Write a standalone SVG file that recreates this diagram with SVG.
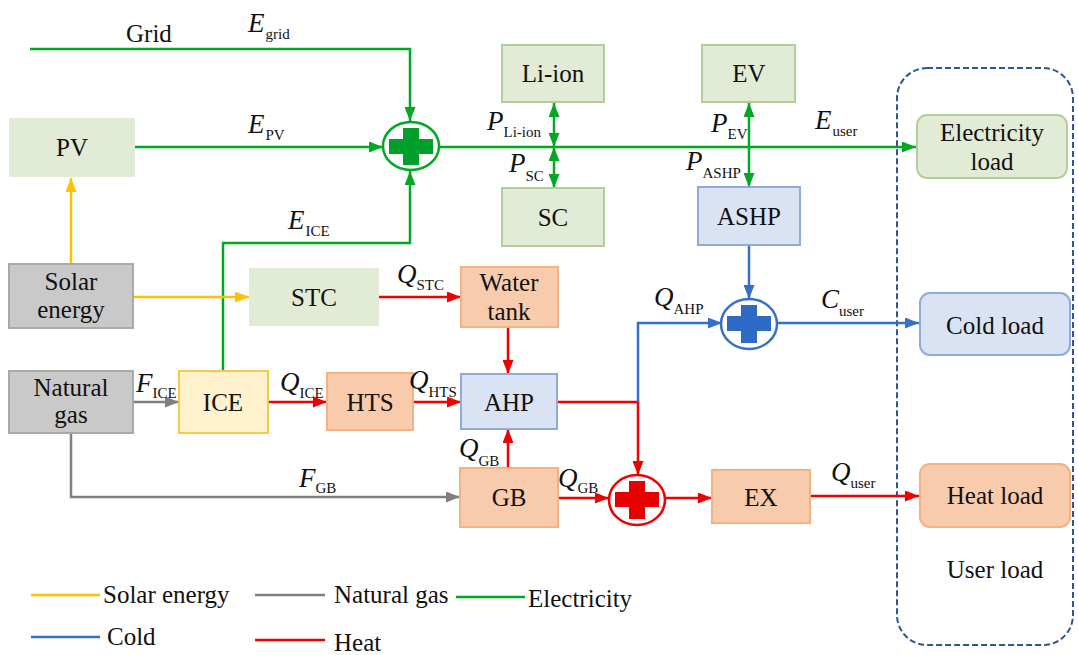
<svg xmlns="http://www.w3.org/2000/svg" width="1078" height="655" viewBox="0 0 1078 655" font-family="Liberation Serif, Times New Roman, serif">
<style>
text{font-family:"Liberation Serif","Times New Roman",serif;fill:#111;}
.lb{font-size:25px;text-anchor:middle;}
.lg{font-size:25px;}
.m{font-size:27px;font-style:italic;}
.s{font-size:15px;font-style:normal;}
.c{fill:none;stroke-width:2.5;}
.g{stroke:#00a823;} .y{stroke:#ffc000;} .k{stroke:#7f7f7f;} .b{stroke:#3570c8;} .r{stroke:#f00000;}
.gr{fill:#e2ebd6;stroke:#b3cf99;stroke-width:2;}
.gn{fill:#e2ebd6;stroke:#e2ebd6;stroke-width:2;}
.gy{fill:#c9c9c9;stroke:#a9a9a9;stroke-width:2;}
.ye{fill:#fff2cc;stroke:#f9c74f;stroke-width:2;}
.or{fill:#f8cbad;stroke:#f4b183;stroke-width:2;}
.bl{fill:#dae3f3;stroke:#8faadc;stroke-width:2;}
</style>
<defs>
<marker id="ag" viewBox="0 0 14 11" refX="14" refY="5.5" markerWidth="14" markerHeight="11" markerUnits="userSpaceOnUse" orient="auto-start-reverse"><path d="M0,0L14,5.5L0,11z" fill="#00a823"/></marker>
<marker id="ay" viewBox="0 0 14 11" refX="14" refY="5.5" markerWidth="14" markerHeight="11" markerUnits="userSpaceOnUse" orient="auto-start-reverse"><path d="M0,0L14,5.5L0,11z" fill="#ffc000"/></marker>
<marker id="ak" viewBox="0 0 14 11" refX="14" refY="5.5" markerWidth="14" markerHeight="11" markerUnits="userSpaceOnUse" orient="auto-start-reverse"><path d="M0,0L14,5.5L0,11z" fill="#7f7f7f"/></marker>
<marker id="ab" viewBox="0 0 14 11" refX="14" refY="5.5" markerWidth="14" markerHeight="11" markerUnits="userSpaceOnUse" orient="auto-start-reverse"><path d="M0,0L14,5.5L0,11z" fill="#3570c8"/></marker>
<marker id="ar" viewBox="0 0 14 11" refX="14" refY="5.5" markerWidth="14" markerHeight="11" markerUnits="userSpaceOnUse" orient="auto-start-reverse"><path d="M0,0L14,5.5L0,11z" fill="#f00000"/></marker>
</defs>

<rect id="user-load-area" x="897" y="68" width="176" height="577" rx="30" fill="none" stroke="#2f5597" stroke-width="2" stroke-dasharray="6,3"/>

<g id="connectors">
<path class="c g" d="M30,49H410V121" marker-end="url(#ag)"/>
<path class="c g" d="M134,147H383" marker-end="url(#ag)"/>
<path class="c g" d="M223,371V243H410V171" marker-end="url(#ag)"/>
<path class="c g" d="M439,147H916" marker-end="url(#ag)"/>
<path class="c g" d="M554,103V147" marker-start="url(#ag)" marker-end="url(#ag)"/>
<path class="c g" d="M554,147V188" marker-start="url(#ag)" marker-end="url(#ag)"/>
<path class="c g" d="M749,103V187" marker-start="url(#ag)" marker-end="url(#ag)"/>
<path class="c y" d="M71,264V178" marker-end="url(#ay)"/>
<path class="c y" d="M133,297H249" marker-end="url(#ay)"/>
<path class="c k" d="M133,402H179" marker-end="url(#ak)"/>
<path class="c k" d="M71,433V497H460" marker-end="url(#ak)"/>
<path class="c r" d="M378,297H461" marker-end="url(#ar)"/>
<path class="c r" d="M508,327V374" marker-end="url(#ar)"/>
<path class="c r" d="M268,402H327" marker-end="url(#ar)"/>
<path class="c r" d="M413,402H461" marker-end="url(#ar)"/>
<path class="c r" d="M508,468V429" marker-end="url(#ar)"/>
<path class="c r" d="M557,402H638V475" marker-end="url(#ar)"/>
<path class="c r" d="M558,498H609" marker-end="url(#ar)"/>
<path class="c r" d="M666,498H712" marker-end="url(#ar)"/>
<path class="c r" d="M810,496H919" marker-end="url(#ar)"/>
<path class="c b" d="M749,245V299" marker-end="url(#ab)"/>
<path class="c b" d="M638,402V323H722" marker-end="url(#ab)"/>
<path class="c b" d="M777,323H919" marker-end="url(#ab)"/>
</g>

<g id="sum-electricity">
<ellipse cx="411" cy="146" rx="28" ry="24" fill="#fff" stroke="#00a823" stroke-width="2.5"/>
<path d="M403,128h16v11h14v15h-14v11h-16v-11h-14v-15h14z" fill="#00a02a"/>
</g>
<g id="sum-cold">
<ellipse cx="749" cy="324" rx="28" ry="25" fill="#fff" stroke="#3570c8" stroke-width="2.5"/>
<path d="M741,305h16v11h14v15h-14v12h-16v-12h-14v-15h14z" fill="#2e6bc6"/>
</g>
<g id="sum-heat">
<ellipse cx="637" cy="500" rx="28" ry="25" fill="#fff" stroke="#f00000" stroke-width="2.5"/>
<path d="M629,481h16v11h14v15h-14v12h-16v-12h-14v-15h14z" fill="#e60000"/>
</g>

<g id="pv"><rect class="gn" x="10" y="119" width="124" height="57"/><text class="lb" x="72" y="156">PV</text></g>
<g id="li-ion"><rect class="gr" x="502" y="45" width="102" height="57"/><text class="lb" x="553" y="82">Li-ion</text></g>
<g id="sc"><rect class="gr" x="502" y="188" width="102" height="58"/><text class="lb" x="553" y="226">SC</text></g>
<g id="ev"><rect class="gr" x="702" y="45" width="93" height="57"/><text class="lb" x="749" y="82">EV</text></g>
<g id="ashp"><rect class="bl" x="698" y="187" width="102" height="58"/><text class="lb" x="749" y="225">ASHP</text></g>
<g id="solar"><rect class="gy" x="9" y="264" width="124" height="64"/><text class="lb" x="71" y="290">Solar</text><text class="lb" x="71" y="318">energy</text></g>
<g id="stc"><rect class="gn" x="250" y="269" width="128" height="56"/><text class="lb" x="314" y="306">STC</text></g>
<g id="water-tank"><rect class="or" x="461" y="267" width="97" height="60"/><text class="lb" x="509" y="291">Water</text><text class="lb" x="509" y="320">tank</text></g>
<g id="natural-gas"><rect class="gy" x="9" y="371" width="124" height="62"/><text class="lb" x="71" y="396">Natural</text><text class="lb" x="71" y="423">gas</text></g>
<g id="ice"><rect class="ye" x="179" y="371" width="89" height="62"/><text class="lb" x="223" y="411">ICE</text></g>
<g id="hts"><rect class="or" x="327" y="373" width="86" height="57"/><text class="lb" x="370" y="411">HTS</text></g>
<g id="ahp"><rect class="bl" x="461" y="374" width="96" height="55"/><text class="lb" x="509" y="411">AHP</text></g>
<g id="gb"><rect class="or" x="460" y="468" width="98" height="59"/><text class="lb" x="509" y="506">GB</text></g>
<g id="ex"><rect class="or" x="712" y="470" width="98" height="53"/><text class="lb" x="761" y="506">EX</text></g>
<g id="electricity-load"><rect class="gr" x="917" y="115" width="150" height="63" rx="10"/><text class="lb" x="992" y="141">Electricity</text><text class="lb" x="992" y="170">load</text></g>
<g id="cold-load"><rect class="bl" x="920" y="293" width="150" height="62" rx="10"/><text class="lb" x="995" y="334">Cold load</text></g>
<g id="heat-load"><rect class="or" x="920" y="464" width="150" height="63" rx="10"/><text class="lb" x="995" y="504">Heat load</text></g>
<text class="lb" x="995" y="578">User load</text>

<g id="labels">
<text class="lg" x="126" y="42">Grid</text>
<text class="m" x="248" y="32">E<tspan class="s" dx="1" dy="7">grid</tspan></text>
<text class="m" x="248" y="133">E<tspan class="s" dx="1" dy="7">PV</tspan></text>
<text class="m" x="288" y="229">E<tspan class="s" dx="1" dy="7">ICE</tspan></text>
<text class="m" x="487" y="130">P<tspan class="s" dx="0" dy="7">Li-ion</tspan></text>
<text class="m" x="509" y="172">P<tspan class="s" dx="0" dy="9">SC</tspan></text>
<text class="m" x="711" y="132">P<tspan class="s" dx="0" dy="7">EV</tspan></text>
<text class="m" x="686" y="170">P<tspan class="s" dx="0" dy="8">ASHP</tspan></text>
<text class="m" x="815" y="129">E<tspan class="s" dx="1" dy="7">user</tspan></text>
<text class="m" x="397" y="283">Q<tspan class="s" dx="0" dy="7">STC</tspan></text>
<text class="m" x="136" y="392">F<tspan class="s" dx="0" dy="6">ICE</tspan></text>
<text class="m" x="280" y="391">Q<tspan class="s" dx="0" dy="7">ICE</tspan></text>
<text class="m" x="409" y="389">Q<tspan class="s" dx="0" dy="8">HTS</tspan></text>
<text class="m" x="459" y="457">Q<tspan class="s" dx="0" dy="9">GB</tspan></text>
<text class="m" x="299" y="487">F<tspan class="s" dx="0" dy="6">GB</tspan></text>
<text class="m" x="558" y="487">Q<tspan class="s" dx="0" dy="6">GB</tspan></text>
<text class="m" x="654" y="306">Q<tspan class="s" dx="0" dy="8">AHP</tspan></text>
<text class="m" x="821" y="308">C<tspan class="s" dx="0" dy="8">user</tspan></text>
<text class="m" x="831" y="481">Q<tspan class="s" dx="0" dy="7">user</tspan></text>
</g>

<g id="legend">
<line class="c y" x1="31" y1="595" x2="100" y2="595"/>
<text class="lg" x="103" y="603">Solar energy</text>
<line class="c k" x1="255" y1="595" x2="325" y2="595"/>
<text class="lg" x="334" y="603">Natural gas</text>
<line class="c g" x1="456" y1="597" x2="525" y2="597"/>
<text class="lg" x="528" y="607">Electricity</text>
<line class="c b" x1="31" y1="637" x2="100" y2="637"/>
<text class="lg" x="107" y="645">Cold</text>
<line class="c r" x1="255" y1="640" x2="325" y2="640"/>
<text class="lg" x="334" y="651">Heat</text>
</g>
</svg>
